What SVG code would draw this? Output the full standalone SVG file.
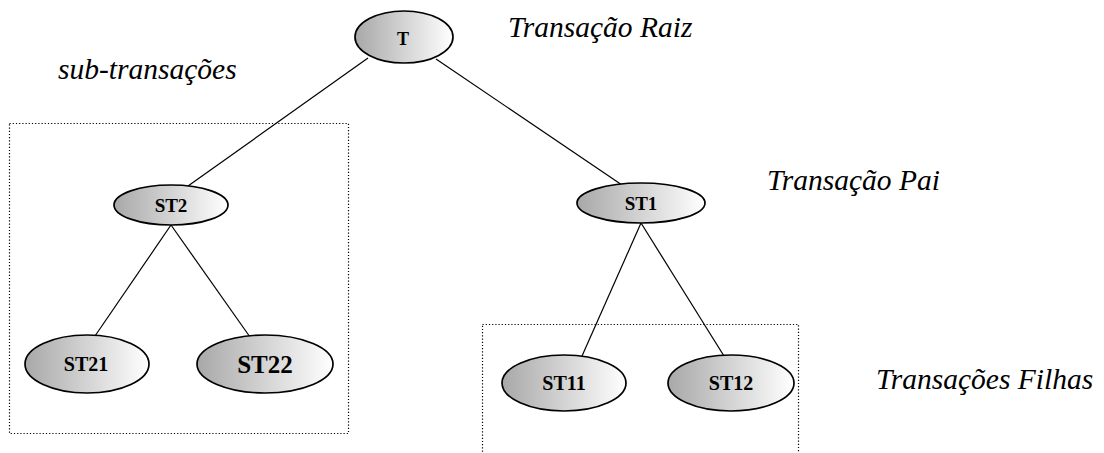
<svg xmlns="http://www.w3.org/2000/svg" width="1104" height="453" viewBox="0 0 1104 453">
  <style>
    .node { stroke: #000; stroke-width: 1.7; fill: url(#shade); }
    .lbl { font-family: "Liberation Serif", "Times New Roman", serif; font-weight: bold; text-anchor: middle; fill: #000; }
    .note { font-family: "Liberation Serif", "Times New Roman", serif; font-style: italic; font-size: 29.5px; fill: #000; }
    .edge { stroke: #000; stroke-width: 1.2; fill: none; }
    .group { stroke: #000; stroke-width: 1.2; stroke-dasharray: 1.2 2; fill: none; }
  </style>
  <defs>
    <linearGradient id="shade" x1="0" y1="0" x2="1" y2="0">
      <stop offset="0" stop-color="#a8a8a8"/>
      <stop offset="1" stop-color="#ffffff"/>
    </linearGradient>
  </defs>
  <rect width="1104" height="453" fill="#fff"/>

  <!-- grouping frames -->
  <rect class="group" x="9.5" y="123.5" width="339" height="310"/>
  <rect class="group" x="482.5" y="324.5" width="316" height="130"/>

  <!-- connectors -->
  <g id="connectors">
    <line class="edge" x1="368" y1="58" x2="188" y2="186"/>
    <line class="edge" x1="436" y1="59" x2="622" y2="185"/>
    <line class="edge" x1="171" y1="225" x2="95" y2="336"/>
    <line class="edge" x1="171" y1="225" x2="250" y2="337"/>
    <line class="edge" x1="641" y1="223" x2="582" y2="356"/>
    <line class="edge" x1="641" y1="223" x2="724" y2="356"/>
  </g>

  <g id="node-T">
    <ellipse class="node" cx="404" cy="37" rx="49" ry="26"/>
    <text class="lbl" x="403" y="45" font-size="18">T</text>
  </g>
  <g id="node-ST2">
    <ellipse class="node" cx="171" cy="205" rx="57" ry="20"/>
    <text class="lbl" x="171" y="212" font-size="19">ST2</text>
  </g>
  <g id="node-ST1">
    <ellipse class="node" cx="641" cy="203" rx="64" ry="20"/>
    <text class="lbl" x="641" y="210" font-size="19">ST1</text>
  </g>
  <g id="node-ST21">
    <ellipse class="node" cx="87" cy="364" rx="62" ry="29"/>
    <text class="lbl" x="86" y="371" font-size="20">ST21</text>
  </g>
  <g id="node-ST22">
    <ellipse class="node" cx="265" cy="364" rx="68" ry="29"/>
    <text class="lbl" x="265" y="373" font-size="25">ST22</text>
  </g>
  <g id="node-ST11">
    <ellipse class="node" cx="564" cy="383" rx="62" ry="28"/>
    <text class="lbl" x="564" y="390" font-size="20">ST11</text>
  </g>
  <g id="node-ST12">
    <ellipse class="node" cx="731" cy="383" rx="63" ry="28"/>
    <text class="lbl" x="731" y="390" font-size="20">ST12</text>
  </g>

  <text class="note" x="508" y="37">Transação Raiz</text>
  <text class="note" x="58" y="79">sub-transações</text>
  <text class="note" x="767" y="190">Transação Pai</text>
  <text class="note" x="876" y="389">Transações Filhas</text>
</svg>
